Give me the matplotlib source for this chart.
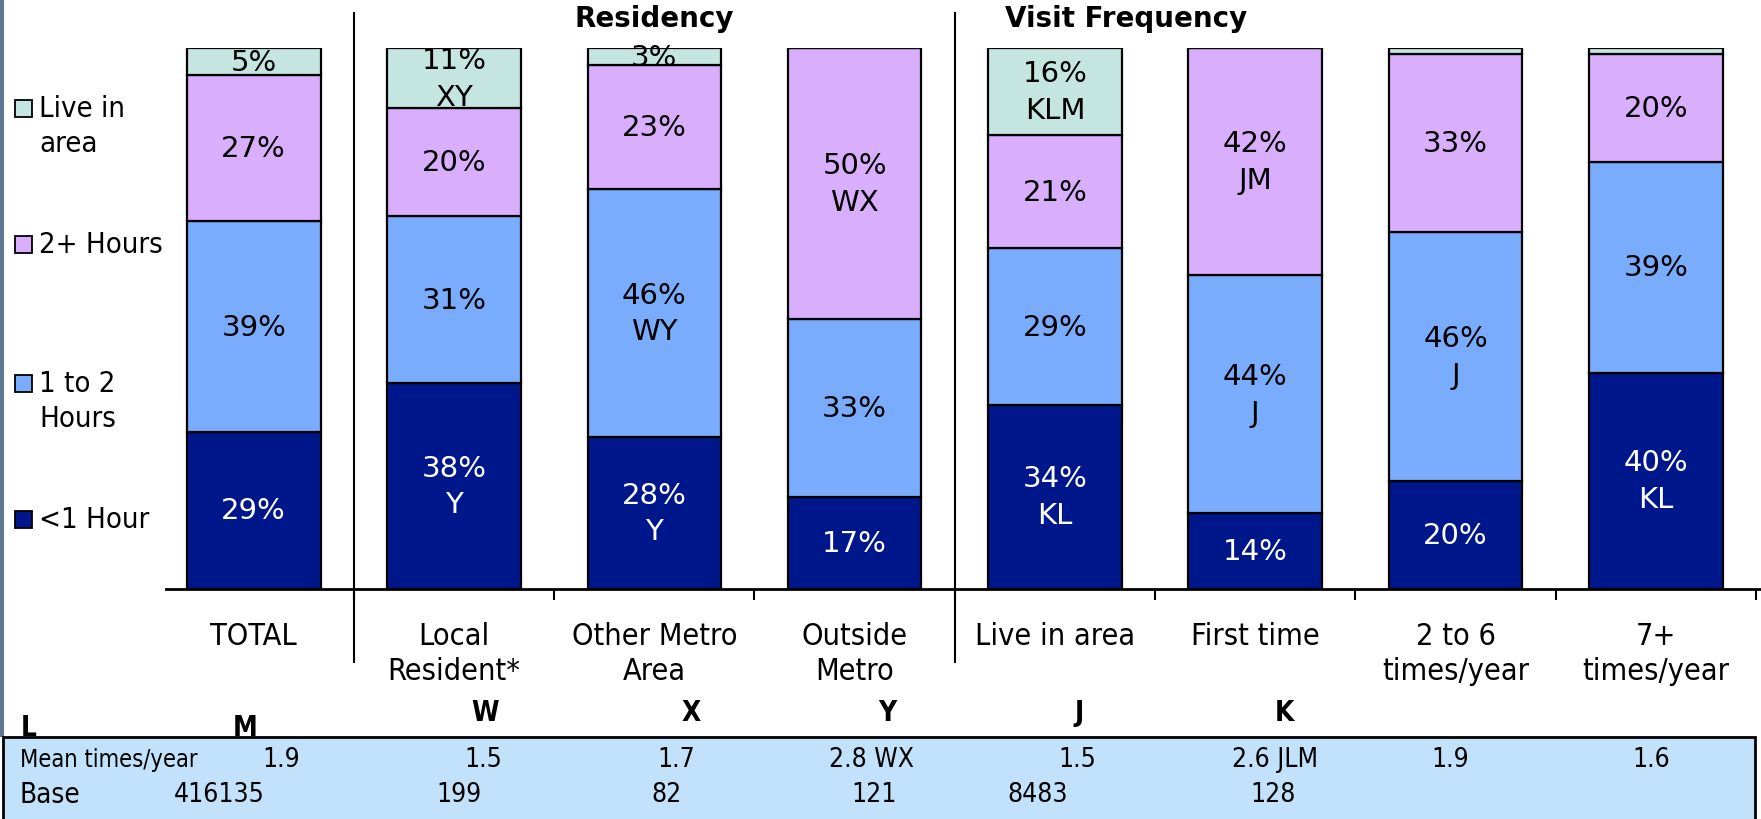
import matplotlib
matplotlib.use('Agg')
import matplotlib.pyplot as plt
from matplotlib.patches import Rectangle
from matplotlib.transforms import blended_transform_factory

# data
categories = ['TOTAL', 'Local\nResident*', 'Other Metro\nArea', 'Outside\nMetro',
              'Live in area', 'First time', '2 to 6\ntimes/year', '7+\ntimes/year']
less_1h = [29, 38, 28, 17, 34, 14, 20, 40]
one_2h = [39, 31, 46, 33, 29, 44, 46, 39]
two_plus = [27, 20, 23, 50, 21, 42, 33, 20]
live_area = [5, 11, 3, 0, 16, 0, 1, 1]

sig_less_1h = ['', 'Y', 'Y', '', 'KL', '', '', 'KL']
sig_one_2h = ['', '', 'WY', '', '', 'J', 'J', '']
sig_two_plus = ['', '', '', 'WX', '', 'JM', '', '']
sig_live = ['', 'XY', '', '', 'KLM', '', '', '']

series_names = ['<1 Hour', '1 to 2\nHours', '2+ Hours', 'Live in\narea']
colors = ['#00168b', '#79acfd', '#d9aefd', '#c5e5e0']

group_names = ['Residency', 'Visit Frequency']
col_letters = ['L', 'M', 'W', 'X', 'Y', 'J', 'K']
mean_vals = ['1.9', '1.5', '1.7', '2.8 WX', '1.5', '2.6 JLM', '1.9', '1.6']
base_vals = ['416135', '199', '82', '121', '8483', '128']

W, H = 1761, 820
fig = plt.figure(figsize=(W / 100, H / 100), dpi=100)

def fx(px):
    return px / W

def fy(py):
    return 1 - py / H

# main axes: baseline at y=590, 100% at y=49, x from 166 to right edge
ax = fig.add_axes([fx(166), fy(589.6), fx(1761 - 166), (589.6 - 49.4) / H])
ax.set_xlim(-0.438, 7.525)
ax.set_ylim(0, 100)

x = range(len(categories))
bw = 0.667
series = [less_1h, one_2h, two_plus, live_area]
sigs = [sig_less_1h, sig_one_2h, sig_two_plus, sig_live]
bottom = [0] * len(categories)
for k, vals in enumerate(series):
    ax.bar(x, vals, bw, bottom=bottom, color=colors[k], edgecolor='black', linewidth=1.6)
    for i, v in enumerate(vals):
        if v >= 3:
            txt = f'{v}%'
            if sigs[k][i]:
                txt += '\n' + sigs[k][i]
            ax.text(i, bottom[i] + v / 2, txt, ha='center', va='center',
                    fontsize=21, linespacing=1.4,
                    color='white' if k == 0 else 'black')
    bottom = [b + v for b, v in zip(bottom, vals)]

for s in ['top', 'right', 'left']:
    ax.spines[s].set_visible(False)
ax.spines['bottom'].set_linewidth(2)
ax.set_yticks([])
ax.set_xticks(list(x))
ax.set_xticklabels(categories, fontsize=22, fontstretch='condensed', linespacing=1.3)
ax.tick_params(axis='x', which='major', length=0, pad=23)
ax.set_xticks([i + 0.5 for i in x], minor=True)
ax.tick_params(axis='x', which='minor', length=8, width=1.5, direction='out')

# separators between groups
tr = blended_transform_factory(ax.transData, fig.transFigure)
for sx in [0.5, 3.5]:
    ax.plot([sx, sx], [fy(14), fy(663)], color='black', lw=1.5, transform=tr, clip_on=False)

# group headers
ax.text(2, fy(19), group_names[0], transform=tr, ha='center', va='center',
        fontsize=20, fontweight='bold')
ax.text(4.355, fy(19), group_names[1], transform=tr, ha='center', va='center',
        fontsize=20, fontweight='bold')

# legend drawn by hand
leg_y = [520, 384, 245, 109]
for k in range(4):
    fig.patches.append(Rectangle((fx(15), fy(leg_y[k] + 8.5)), fx(17), 17 / H,
                                 facecolor=colors[k], edgecolor='black', lw=1.3,
                                 transform=fig.transFigure))
    for j, line in enumerate(series_names[k].split('\n')):
        fig.text(fx(39), fy(leg_y[k] + 35 * j), line, ha='left', va='center',
                 fontsize=21, fontstretch='condensed')

# left strip
fig.patches.append(Rectangle((0, fy(738)), fx(4), 738 / H, facecolor='#5f7891',
                             edgecolor='none', transform=fig.transFigure))

# column letters
letter_pos = [(29, 728), (245, 728), (485, 713), (691, 713), (887, 713), (1079, 713), (1284, 713)]
for (lx, ly), t in zip(letter_pos, col_letters):
    fig.text(fx(lx), fy(ly), t, ha='center', va='center', fontsize=20,
             fontweight='bold', fontstretch='condensed')

# table
fig.patches.append(Rectangle((fx(3.5), fy(835)), fx(1751), 97 / H, facecolor='#c2e2fb',
                             edgecolor='black', lw=2, transform=fig.transFigure))
fig.text(fx(20), fy(760), 'Mean times/year', ha='left', va='center', fontsize=17,
         fontstretch='condensed')
mean_x = [262, 464, 657, 829, 1058, 1232, 1431, 1632]
for mx, t in zip(mean_x, mean_vals):
    fig.text(fx(mx), fy(760), t, ha='left', va='center', fontsize=19, fontstretch='condensed')
fig.text(fx(20), fy(795), 'Base', ha='left', va='center', fontsize=20, fontstretch='condensed')
base_x = [174, 436, 651, 851, 1007, 1250]
for bx, t in zip(base_x, base_vals):
    fig.text(fx(bx), fy(795), t, ha='left', va='center', fontsize=19, fontstretch='condensed')

fig.savefig('out.png', dpi=100)
